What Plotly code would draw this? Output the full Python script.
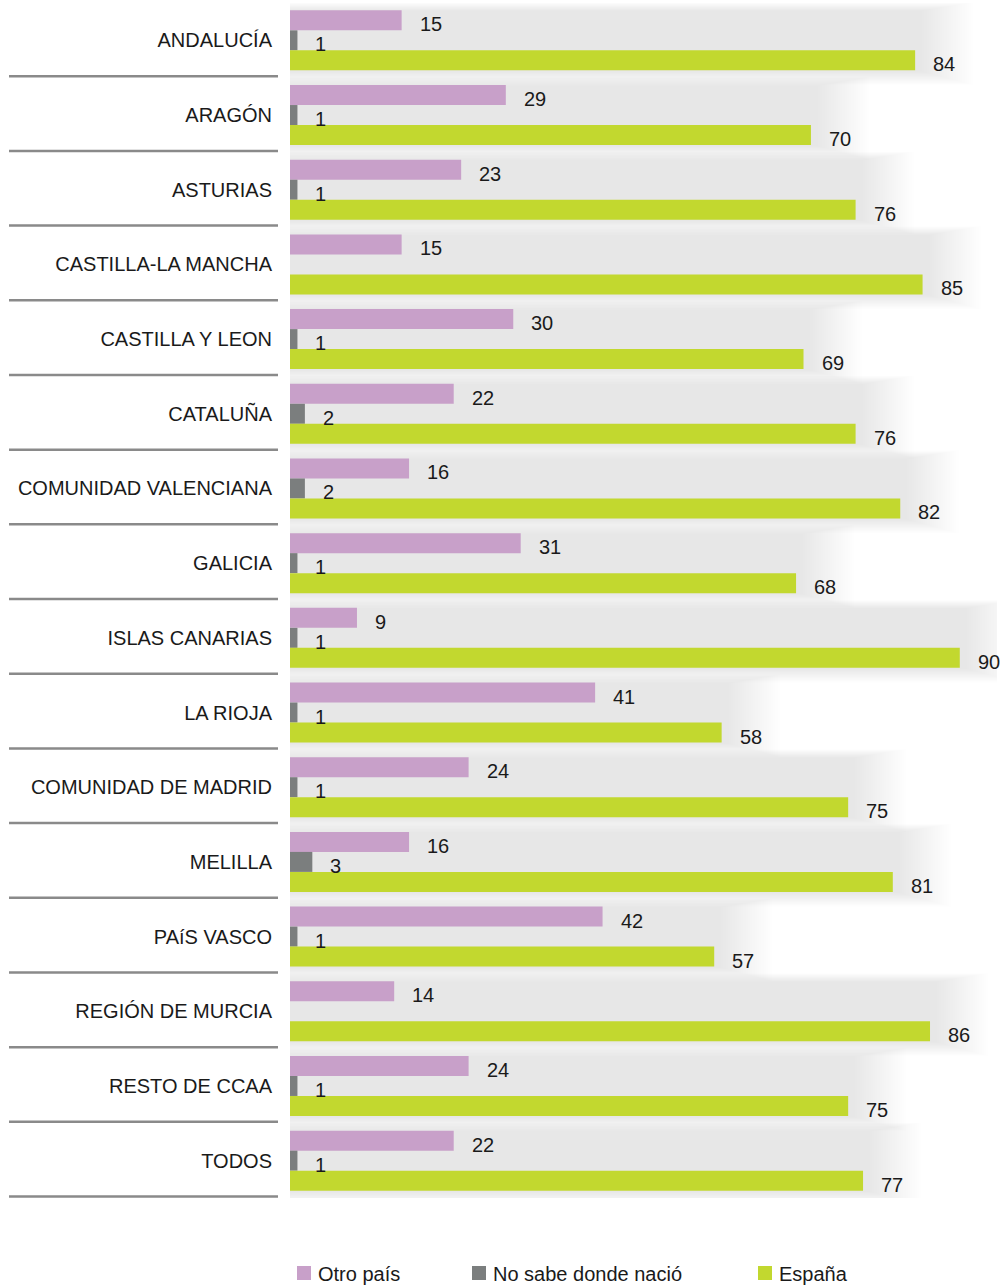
import plotly.graph_objects as go

regiones = [
    "ANDALUCÍA", "ARAGÓN", "ASTURIAS", "CASTILLA-LA MANCHA", "CASTILLA Y LEON",
    "CATALUÑA", "COMUNIDAD VALENCIANA", "GALICIA", "ISLAS CANARIAS", "LA RIOJA",
    "COMUNIDAD DE MADRID", "MELILLA", "PAíS VASCO", "REGIÓN DE MURCIA",
    "RESTO DE CCAA", "TODOS",
]
otro_pais = [15, 29, 23, 15, 30, 22, 16, 31, 9, 41, 24, 16, 42, 14, 24, 22]
no_sabe = [1, 1, 1, None, 1, 2, 2, 1, 1, 1, 1, 3, 1, None, 1, 1]
espana = [84, 70, 76, 85, 69, 76, 82, 68, 90, 58, 75, 81, 57, 86, 75, 77]

series = [
    ("Otro país", otro_pais, "#C8A0C9"),
    ("No sabe donde nació", no_sabe, "#7B7E7E"),
    ("España", espana, "#C2D82F"),
]

W, H = 1004, 1286
L, R, T, B = 290, 7, 3, 88
FONT = "Liberation Sans, Arial, sans-serif"


def px_x(px):
    return (px - L) / (W - L - R)


def px_y(py):
    return (H - B - py) / (H - T - B)


fig = go.Figure()
for name, vals, color in series:
    fig.add_trace(go.Bar(
        y=regiones, x=vals, name=name, orientation="h",
        marker=dict(color=color, line=dict(width=0)),
        showlegend=False, hoverinfo="x+name",
    ))

# value labels
shifts = [16, -4, -24]
annotations = []
for (name, vals, color), ys in zip(series, shifts):
    for reg, v in zip(regiones, vals):
        if v is None:
            continue
        annotations.append(dict(
            x=v, y=reg, xref="x", yref="y", text=str(v), showarrow=False,
            xanchor="left", xshift=16, yshift=ys,
            font=dict(size=20, color="#1a1a1a", family=FONT),
        ))

shapes = []
# soft drop shadow behind each group (stacked faint rects)
for i in range(len(regiones)):
    top = max(otro_pais[i], no_sabe[i] or 0, espana[i])
    for g in range(24):
        shapes.append(dict(
            type="rect", layer="below", xref="x", yref="y",
            x0=-g * 0.2, x1=top + 1.0 + g * 0.3,
            y0=i - 0.40 - g * 0.005, y1=i + 0.42 + g * 0.008,
            fillcolor="rgba(70,70,90,0.0058)", line=dict(width=0),
        ))
# separator lines under each label
for i in range(len(regiones)):
    shapes.append(dict(
        type="line", xref="paper", yref="y",
        x0=px_x(9), x1=px_x(278), y0=i + 0.48, y1=i + 0.48,
        line=dict(color="#8A8A8A", width=2.5),
    ))

# legend built from the series
legend_pos = [297, 472, 758]
for (name, vals, color), lx in zip(series, legend_pos):
    shapes.append(dict(
        type="rect", xref="paper", yref="paper",
        x0=px_x(lx), x1=px_x(lx + 14), y0=px_y(1280), y1=px_y(1266),
        fillcolor=color, line=dict(width=0),
    ))
    annotations.append(dict(
        x=px_x(lx + 19), y=px_y(1274), xref="paper", yref="paper",
        text=name, showarrow=False, xanchor="left", yanchor="middle",
        font=dict(size=20, color="#1a1a1a", family=FONT),
    ))

fig.update_layout(
    width=W, height=H,
    margin=dict(l=L, r=R, t=T, b=B),
    barmode="group", bargap=0.197, bargroupgap=0,
    plot_bgcolor="white", paper_bgcolor="white",
    font=dict(family=FONT, size=20, color="#1a1a1a"),
    shapes=shapes, annotations=annotations,
    showlegend=False,
)
fig.update_xaxes(range=[0, 95], visible=False, fixedrange=True)
fig.update_yaxes(
    range=[len(regiones) - 0.5, -0.5], fixedrange=True,
    showgrid=False, zeroline=False, showline=False,
    ticks="outside", ticklen=13, tickcolor="rgba(0,0,0,0)",
    tickfont=dict(size=20, color="#1a1a1a", family=FONT),
)

fig.write_html(
    "out.html",
    config={"displayModeBar": False},
    post_script="document.body.style.margin='0';document.body.style.overflow='hidden';",
)
